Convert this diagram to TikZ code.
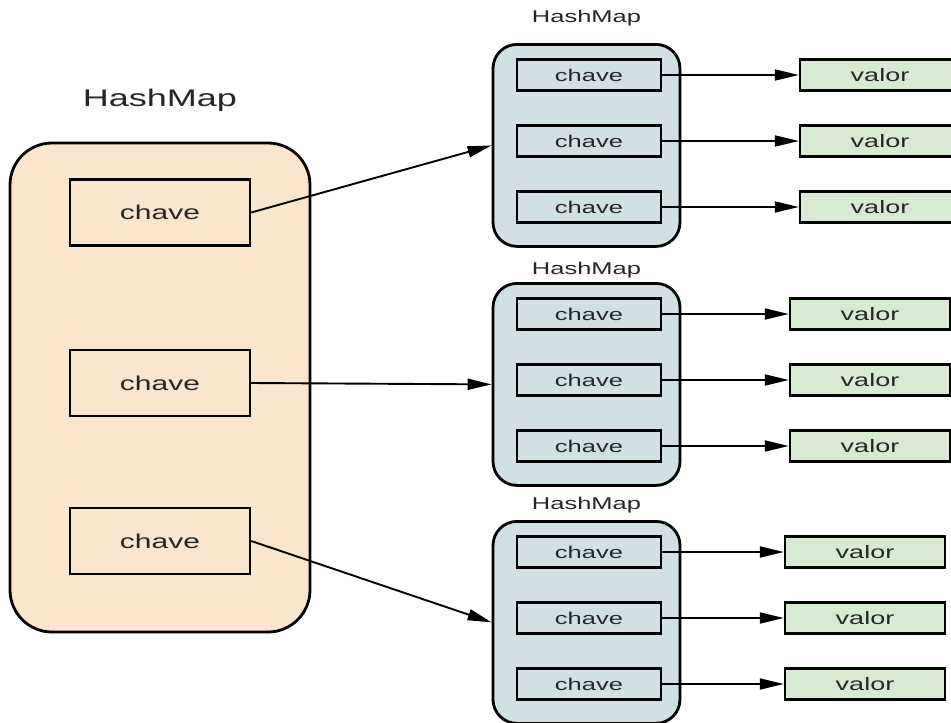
\documentclass[tikz,border=0pt]{standalone}
\usepackage{fontspec}
\setmainfont{Liberation Sans}[FakeStretch=1.5]
\usetikzlibrary{arrows.meta, positioning}
\definecolor{pessego}{HTML}{FCE5CD}
\definecolor{azulclaro}{HTML}{D0E0E3}
\definecolor{verdeclaro}{HTML}{D9EAD3}
\definecolor{texto}{HTML}{262626}
\tikzset{
    mapa/.style={draw, line width=2.8pt, rounded corners=24pt, fill=azulclaro,
        minimum width=187pt, minimum height=202pt},
    chave/.style={draw, line width=2.4pt, fill=azulclaro, inner sep=0pt,
        minimum width=144pt, minimum height=31pt, text=texto,
        font=\fontsize{17}{20}\selectfont},
    valor/.style={draw, line width=2.4pt, fill=verdeclaro, inner sep=0pt,
        minimum width=160pt, minimum height=31pt, text=texto,
        font=\fontsize{18}{20}\selectfont},
    titulo/.style={text=texto, font=\fontsize{17}{20}\selectfont},
    seta/.style={line width=1.9pt, -{Triangle[length=24pt, width=11pt]}}
}

\begin{document}
\begin{tikzpicture}[x=1pt, y=-1pt]
    \useasboundingbox (0,0) rectangle (951,723);

    % HashMap externo
    \node[draw, line width=2.8pt, rounded corners=42pt, fill=pessego,
        minimum width=300pt, minimum height=489pt] (outer) at (160,387.5) {};
    \node[titulo, font=\fontsize{24}{28}\selectfont] (outertitle) at (160,100) {HashMap};
    \node[chave, fill=pessego, minimum width=180pt, minimum height=66pt,
        font=\fontsize{20}{24}\selectfont] (lk1) at (160,212.5) {chave};
    \node[chave, fill=pessego, minimum width=180pt, minimum height=66pt,
        font=\fontsize{20}{24}\selectfont] (lk2) at (160,383) {chave};
    \node[chave, fill=pessego, minimum width=180pt, minimum height=66pt,
        font=\fontsize{20}{24}\selectfont] (lk3) at (160,541) {chave};

    % HashMaps internos: indice / topo / titulo / centro dos valores
    \foreach \m/\top/\lab/\vx in {1/43/18/880, 2/282/270/870, 3/520/505/865} {
        \node[mapa, anchor=north] (map\m) at (586.5,\top) {};
        \node[titulo] (title\m) at (586.5,\lab) {HashMap};
        \foreach \i/\dy in {1/32, 2/98, 3/164} {
            \node[chave] (k\m-\i) at (589,\top+\dy) {chave};
            \node[valor] (v\m-\i) at (\vx,\top+\dy) {valor};
            \draw[seta] (k\m-\i.east) -- (v\m-\i.west);
        }
    }

    \draw[seta] (lk1.east) -- (map1.west);
    \draw[seta] (lk2.east) -- (map2.west);
    \draw[seta] (lk3.east) -- (map3.west);
\end{tikzpicture}
\end{document}
